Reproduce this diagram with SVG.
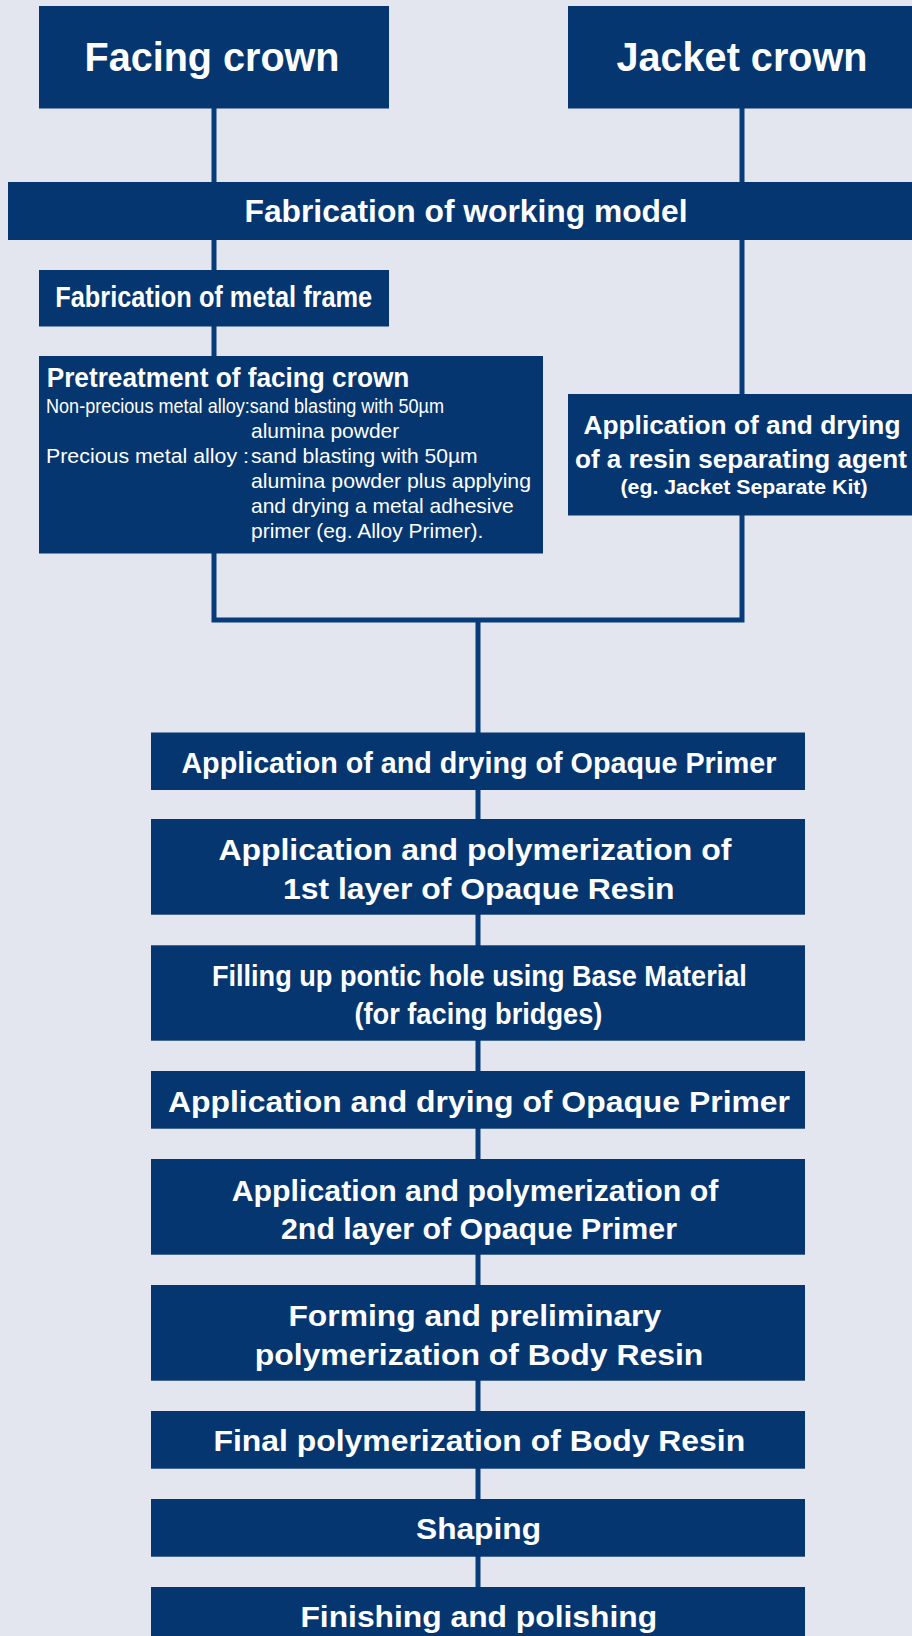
<svg xmlns="http://www.w3.org/2000/svg" width="912" height="1636" viewBox="0 0 912 1636">
<style>
.bg{fill:#e3e6ef}
.box{fill:#053670}
.ln{stroke:#083b79;stroke-width:5;fill:none}
text{font-family:"Liberation Sans",Arial,Helvetica,sans-serif;fill:#ffffff}
.b{font-weight:bold}
.c{text-anchor:middle}
.r{font-size:21px}
</style>
<rect class="bg" x="0" y="0" width="912" height="1636"/>
<g id="connectors">
<path class="ln" d="M214,108 V620 M742,108 V620 M211.5,620 H744.5 M478,620 V1600"/>
</g>
<g id="facing-crown">
<rect class="box" x="39" y="6" width="350" height="102.5"/>
<text class="b c" x="212" y="71" font-size="41" textLength="255" lengthAdjust="spacingAndGlyphs">Facing crown</text>
</g>
<g id="jacket-crown">
<rect class="box" x="568" y="6" width="344" height="102.5"/>
<text class="b c" x="742" y="71" font-size="41" textLength="251" lengthAdjust="spacingAndGlyphs">Jacket crown</text>
</g>
<g id="working-model">
<rect class="box" x="8" y="182" width="904" height="58"/>
<text class="b c" x="466" y="222" font-size="32" textLength="443" lengthAdjust="spacingAndGlyphs">Fabrication of working model</text>
</g>
<g id="metal-frame">
<rect class="box" x="39" y="270" width="350" height="56.5"/>
<text class="b c" x="213.7" y="307.3" font-size="29" textLength="317" lengthAdjust="spacingAndGlyphs">Fabrication of metal frame</text>
</g>
<g id="pretreatment">
<rect class="box" x="39" y="356" width="504" height="197.5"/>
<text class="b" x="46.7" y="386.7" font-size="27" textLength="362.6" lengthAdjust="spacingAndGlyphs">Pretreatment of facing crown</text>
<text class="r" x="46" y="412.7" textLength="398" lengthAdjust="spacingAndGlyphs">Non-precious metal alloy:sand blasting with 50µm</text>
<text class="r" x="251" y="437.7">alumina powder</text>
<text class="r" x="46" y="462.7" textLength="203" lengthAdjust="spacingAndGlyphs">Precious metal alloy :</text>
<text class="r" x="251" y="462.7" textLength="226.7" lengthAdjust="spacingAndGlyphs">sand blasting with 50µm</text>
<text class="r" x="251" y="487.7" textLength="280" lengthAdjust="spacingAndGlyphs">alumina powder plus applying</text>
<text class="r" x="251" y="513">and drying a metal adhesive</text>
<text class="r" x="251" y="538.3">primer (eg. Alloy Primer).</text>
</g>
<g id="separating-agent">
<rect class="box" x="568" y="394" width="344" height="121.5"/>
<text class="b c" x="742" y="433.5" font-size="26" textLength="317" lengthAdjust="spacingAndGlyphs">Application of and drying</text>
<text class="b c" x="741" y="468.3" font-size="26" textLength="332" lengthAdjust="spacingAndGlyphs">of a resin separating agent</text>
<text class="b c" x="744" y="494" font-size="20" textLength="247" lengthAdjust="spacingAndGlyphs">(eg. Jacket Separate Kit)</text>
</g>
<g id="step1">
<rect class="box" x="151" y="732.5" width="654" height="57.5"/>
<text class="b c" x="478.9" y="772.7" font-size="29" textLength="595" lengthAdjust="spacingAndGlyphs">Application of and drying of Opaque Primer</text>
</g>
<g id="step2">
<rect class="box" x="151" y="819" width="654" height="95.7"/>
<text class="b c" x="474.9" y="860" font-size="30" textLength="513" lengthAdjust="spacingAndGlyphs">Application and polymerization of</text>
<text class="b c" x="478.8" y="899" font-size="30" textLength="391.6" lengthAdjust="spacingAndGlyphs">1st layer of Opaque Resin</text>
</g>
<g id="step3">
<rect class="box" x="151" y="945.3" width="654" height="95.4"/>
<text class="b c" x="479.4" y="985.7" font-size="30" textLength="535" lengthAdjust="spacingAndGlyphs">Filling up pontic hole using Base Material</text>
<text class="b c" x="478.4" y="1024" font-size="30" textLength="248" lengthAdjust="spacingAndGlyphs">(for facing bridges)</text>
</g>
<g id="step4">
<rect class="box" x="151" y="1071" width="654" height="57.7"/>
<text class="b c" x="479" y="1112.3" font-size="30" textLength="622" lengthAdjust="spacingAndGlyphs">Application and drying of Opaque Primer</text>
</g>
<g id="step5">
<rect class="box" x="151" y="1159" width="654" height="95.7"/>
<text class="b c" x="475" y="1200.7" font-size="30" textLength="486.6" lengthAdjust="spacingAndGlyphs">Application and polymerization of</text>
<text class="b c" x="479" y="1239" font-size="30" textLength="396" lengthAdjust="spacingAndGlyphs">2nd layer of Opaque Primer</text>
</g>
<g id="step6">
<rect class="box" x="151" y="1285" width="654" height="95.7"/>
<text class="b c" x="474.8" y="1326" font-size="30" textLength="372.7" lengthAdjust="spacingAndGlyphs">Forming and preliminary</text>
<text class="b c" x="479" y="1365" font-size="30" textLength="448.7" lengthAdjust="spacingAndGlyphs">polymerization of Body Resin</text>
</g>
<g id="step7">
<rect class="box" x="151" y="1411" width="654" height="57.7"/>
<text class="b c" x="479.3" y="1451" font-size="30" textLength="531.7" lengthAdjust="spacingAndGlyphs">Final polymerization of Body Resin</text>
</g>
<g id="step8">
<rect class="box" x="151" y="1499" width="654" height="57.7"/>
<text class="b c" x="478.5" y="1539.3" font-size="30" textLength="125" lengthAdjust="spacingAndGlyphs">Shaping</text>
</g>
<g id="step9">
<rect class="box" x="151" y="1587" width="654" height="49"/>
<text class="b c" x="478.8" y="1627.3" font-size="30" textLength="356.7" lengthAdjust="spacingAndGlyphs">Finishing and polishing</text>
</g>
</svg>
